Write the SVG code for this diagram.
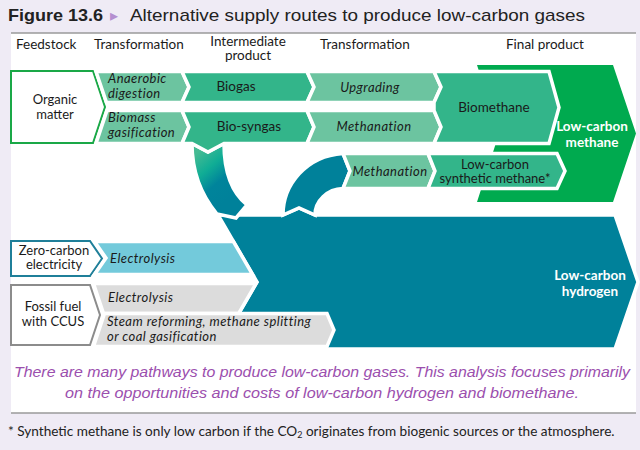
<svg xmlns="http://www.w3.org/2000/svg" width="640" height="450" viewBox="0 0 640 450">
<defs>
<style>
.t{font-family:Lato,"Open Sans","Liberation Sans",sans-serif;font-size:13.5px;fill:#1a1a1a}
.s{font-size:13px}
.i{font-style:italic;font-size:13px;letter-spacing:0.45px}
.m{text-anchor:middle}
.w{fill:#fff;font-weight:bold;font-size:13.5px}
.hd{font-family:Lato,"Liberation Sans",sans-serif;font-size:13.5px;fill:#1a1a1a}
.lg{fill:#6cc4a0;stroke:#fff;stroke-width:3.5;stroke-linejoin:miter}
.mg{fill:#33b58a;stroke:#fff;stroke-width:3.5}
.gy{fill:#dcdcdc;stroke:#fff;stroke-width:3.5}
.lb{fill:#73cadb;stroke:#fff;stroke-width:3.5}
.tl{fill:#00819a;stroke:#fff;stroke-width:3.5}
.box{fill:#fff;stroke-width:2}
</style>
<linearGradient id="g1" x1="0.2" y1="0.05" x2="0.65" y2="0.75">
<stop offset="0" stop-color="#45bb93"/>
<stop offset="0.35" stop-color="#10ad95"/>
<stop offset="0.65" stop-color="#00849b"/>
<stop offset="1" stop-color="#00819a"/>
</linearGradient>
</defs>
<rect x="0" y="0" width="640" height="450" fill="#efebf5"/>
<rect x="11" y="33" width="625" height="380" fill="#fff"/>
<line x1="11" y1="33" x2="636" y2="33" stroke="#9a9a9a" stroke-width="1.5"/>
<line x1="11" y1="413" x2="636" y2="413" stroke="#9a9a9a" stroke-width="1.5"/>

<g id="title">
<text x="8" y="21" font-family="'Liberation Sans',sans-serif" font-size="17" font-weight="bold" fill="#222" textLength="95" lengthAdjust="spacingAndGlyphs">Figure 13.6</text>
<text x="110" y="21" font-family="'DejaVu Sans',sans-serif" font-size="16" fill="#b48fd0">▸</text>
<text x="130" y="21" font-family="'Liberation Sans',sans-serif" font-size="17" fill="#222" textLength="455" lengthAdjust="spacingAndGlyphs">Alternative supply routes to produce low-carbon gases</text>
</g>

<g id="headers">
<text class="hd" x="16" y="49">Feedstock</text>
<text class="hd" x="94" y="49">Transformation</text>
<text class="hd m s" x="248" y="45.5">Intermediate</text>
<text class="hd m s" x="248" y="60">product</text>
<text class="hd" x="320" y="49">Transformation</text>
<text class="hd" x="506" y="49">Final product</text>
</g>

<g id="low-carbon-methane">
<polygon points="477,65 613,65 636,133.5 613,202 477,202 499,133.5" fill="#00aa4f"/>
<text class="t w m" x="592" y="131">Low-carbon</text>
<text class="t w m" x="592" y="146.5">methane</text>
</g>

<g id="low-carbon-hydrogen">
<polygon class="tl" points="218,215 283,215 299,208 315,215 615,215 638,282 615,349 218,349 257,282"/>
<text class="t w m" x="590" y="280">Low-carbon</text>
<text class="t w m" x="590" y="295.5">hydrogen</text>
</g>

<g id="connectors">
<path d="M192,143.5 L208,152 L224,143.5 C224,170 231,192 247,205 L236,218 L217,214 C202,196 192,172 192,143.5 Z" fill="url(#g1)" stroke="#fff" stroke-width="3.5"/>
<path class="tl" d="M283,215 L299,208 L315,215 C315,201 327,189 343,188.5 L350,171 L343,153.5 C306,156 283,185 283,215 Z"/>
</g>

<g id="organic-matter">
<polygon class="box" stroke="#1aa847" points="11,71 93,71 105,107 93,143 11,143"/>
<text class="t m s" x="55" y="103.5">Organic</text>
<text class="t m s" x="55" y="118.5">matter</text>
</g>

<g id="anaerobic-digestion">
<polygon class="lg" points="96,71.5 182,71.5 189,87 182,102.5 106.5,102.5"/>
<text class="t i" x="108" y="83">Anaerobic</text>
<text class="t i" x="108" y="97.5">digestion</text>
</g>

<g id="biomass-gasification">
<polygon class="lg" points="107,110.5 182,110.5 189,127 182,143.5 96,143.5"/>
<text class="t i" x="108" y="122">Biomass</text>
<text class="t i" x="108" y="136.5">gasification</text>
</g>

<g id="biogas">
<polygon class="mg" points="182,71.5 307,71.5 314,87 307,102.5 182,102.5 189,87"/>
<text class="t m" x="236" y="91">Biogas</text>
</g>

<g id="bio-syngas">
<polygon class="mg" points="182,110.5 307,110.5 314,127 307,143.5 224,143.5 208,152 192,143.5 182,143.5 189,127"/>
<text class="t m" x="249" y="131">Bio-syngas</text>
</g>

<g id="upgrading">
<polygon class="lg" points="307,71.5 434,71.5 441,87 434,102.5 307,102.5 314,87"/>
<text class="t i m" x="370" y="92">Upgrading</text>
</g>

<g id="methanation-1">
<polygon class="lg" points="307,110.5 434,110.5 441,127 434,143.5 307,143.5 314,127"/>
<text class="t i m" x="374" y="131">Methanation</text>
</g>

<g id="biomethane">
<polygon class="mg" points="434,71.5 549,71.5 559,107.5 549,143.5 434,143.5 441,127 434,110.5 434,102.5 441,87"/>
<text class="t m" x="494" y="112">Biomethane</text>
</g>

<g id="methanation-2">
<polygon class="lg" points="343,153.5 428,153.5 435,171 428,188.5 343,188.5 350,171"/>
<text class="t i m" x="390" y="176">Methanation</text>
</g>

<g id="synthetic-methane">
<polygon class="mg" points="428,153.5 557,153.5 565,171 557,188.5 428,188.5 435,171"/>
<text class="t m s" x="495" y="168.5">Low-carbon</text>
<text class="t m s" x="495" y="183">synthetic methane*</text>
</g>

<g id="zero-carbon-electricity">
<polygon class="box" stroke="#1f7f99" points="11,241 90,241 102,258.5 90,276 11,276"/>
<text class="t m s" x="54" y="254.5">Zero-carbon</text>
<text class="t m s" x="54" y="269">electricity</text>
</g>

<g id="electrolysis-1">
<polygon class="lb" points="94.5,241.5 233.4,241.5 252.6,274.5 94.5,274.5 106,258"/>
<text class="t i" x="110" y="263">Electrolysis</text>
</g>

<g id="fossil-fuel-ccus">
<polygon class="box" stroke="#8c8c8c" points="11,285 90,285 100,315 90,345 11,345"/>
<text class="t m s" x="53" y="310.5">Fossil fuel</text>
<text class="t m s" x="53" y="326">with CCUS</text>
</g>

<g id="electrolysis-2">
<polygon class="gy" points="93.5,283.5 256.1,283.5 238.7,313.5 103.5,313.5"/>
<text class="t i" x="108" y="302">Electrolysis</text>
</g>

<g id="steam-reforming">
<polygon class="gy" points="104.5,313.5 327,313.5 334,330 327,346.5 93.5,346.5"/>
<text class="t i" x="107" y="326">Steam reforming, methane splitting</text>
<text class="t i" x="107" y="340.5">or coal gasification</text>
</g>

<g id="notes">
<text x="322" y="377" text-anchor="middle" font-family="'Liberation Sans',sans-serif" font-size="14.5" font-style="italic" fill="#9b4fae" textLength="616" lengthAdjust="spacingAndGlyphs">There are many pathways to produce low-carbon gases. This analysis focuses primarily</text>
<text x="322" y="398" text-anchor="middle" font-family="'Liberation Sans',sans-serif" font-size="14.5" font-style="italic" fill="#9b4fae" textLength="514" lengthAdjust="spacingAndGlyphs">on the opportunities and costs of low-carbon hydrogen and biomethane.</text>
<text x="8" y="436" font-family="Lato,'Liberation Sans',sans-serif" font-size="13.6" fill="#222">* Synthetic methane is only low carbon if the CO<tspan font-size="9" dy="2">2</tspan><tspan dy="-2"> originates from biogenic sources or the atmosphere.</tspan></text>
</g>
</svg>
